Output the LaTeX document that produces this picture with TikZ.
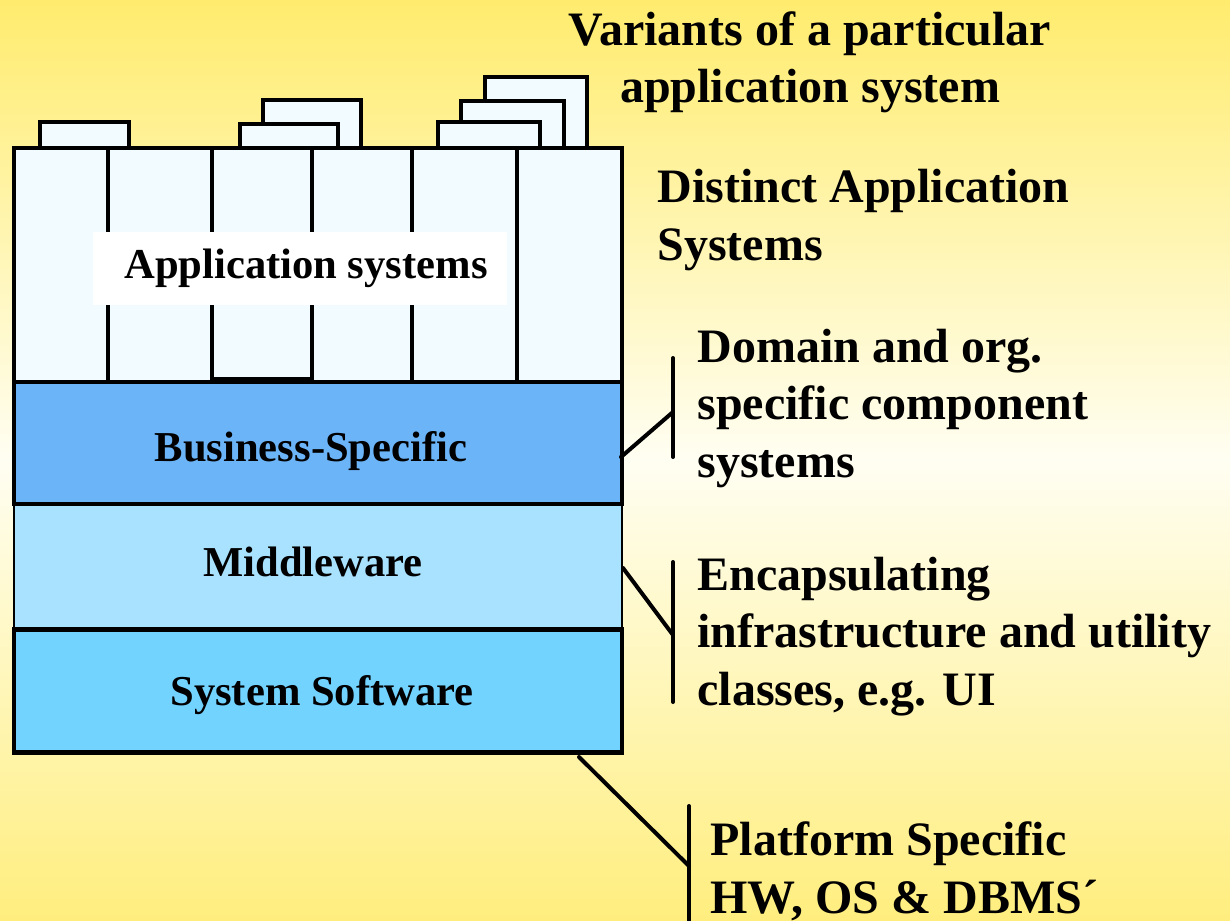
\documentclass[tikz,border=0pt]{standalone}
\usepackage{fontspec}
\setmainfont{Liberation Serif}
\definecolor{bgtop}{RGB}{255,236,110}
\definecolor{bgmid}{RGB}{255,254,242}
\definecolor{bgbot}{RGB}{255,238,126}
\definecolor{appblue}{RGB}{242,251,255}
\definecolor{bizblue}{RGB}{108,180,248}
\definecolor{midblue}{RGB}{168,226,255}
\definecolor{sysblue}{RGB}{115,211,255}
\begin{document}
\begin{tikzpicture}[x=0.5pt,y=-0.5pt,
  frame/.style={draw=black,line width=2.3pt},
  tab/.style={frame,fill=appblue,inner sep=0pt,outer sep=0pt},
  layerbox/.style={frame,inner sep=0pt,outer sep=0pt,minimum width=304pt},
  layerlabel/.style={font=\fontsize{21.3}{25}\selectfont\bfseries,anchor=base,inner sep=0pt},
  sidelabel/.style={font=\fontsize{24}{28.75}\selectfont\bfseries,align=left,inner sep=0pt},
  bracket/.style={line width=2pt,line cap=round,line join=round}]
% background: yellow at top and bottom, pale cream across the middle
\shade[top color=bgtop,bottom color=bgbot,middle color=bgmid] (0,0) rectangle (1230,920);
\useasboundingbox (0,0) rectangle (1230,920);

% variant tabs behind the application systems
\node (t1)  [tab,minimum width=44.5pt,minimum height=14pt] at (84.5,136) {};
\node (t2b) [tab,minimum width=49pt,minimum height=25pt] at (312,125) {};
\node (t2f) [tab,minimum width=49pt,minimum height=13pt] at (289,137) {};
\node (t3b) [tab,minimum width=51pt,minimum height=38pt] at (536,115) {};
\node (t3m) [tab,minimum width=51.5pt,minimum height=26pt] at (512.5,127) {};
\node (t3f) [tab,minimum width=51pt,minimum height=14pt] at (489,136) {};

% layer stack
\node (app) [layerbox,fill=appblue,minimum height=117pt] at (318,265) {};
\foreach \x in {108,212,312,412,517}
  \draw[frame] (\x,148) -- (\x,382);
\draw[frame] (212,379) -- (312,379);
\node (mid) [layerbox,draw=black,line width=1pt,fill=midblue,minimum height=62.5pt] at (318,566.5) {};
\node (biz) [layerbox,fill=bizblue,minimum height=61pt] at (318,443) {};
\node (sys) [layerbox,fill=sysblue,minimum height=61.5pt] at (318,691) {};
\draw[frame] (14,504) -- (622,504);
\draw[frame] (14,629) -- (622,629);

% layer names
\node (applbl) [fill=white,minimum width=207pt,minimum height=36.5pt,inner sep=0pt,
  font=\fontsize{21.3}{25}\selectfont\bfseries] at (300,268.5) {\hspace*{6pt}Application systems};
\node (bizlbl) [layerlabel] at (311,461) {Business-Specific};
\node (midlbl) [layerlabel] at (313,576) {Middleware};
\node (syslbl) [layerlabel] at (322,705) {System Software};

% side annotations (base anchor = baseline of the last line)
\node (variants) [sidelabel,align=center,anchor=base] at (810,103)
  {Variants of a particular\\application system};
\node (distinct) [sidelabel,anchor=base west] at (657,260)
  {Distinct Application\\Systems};
\node (domain) [sidelabel,anchor=base west] at (697,477)
  {Domain and org.\\specific component\\systems};
\node (encaps) [sidelabel,anchor=base west] at (697,705)
  {Encapsulating\\infrastructure and utility\\classes, e.g. UI};
\node (platform) [sidelabel,anchor=base west] at (710,913)
  {Platform Specific\\HW, OS \& DBMS´};

% brackets tying layers to annotations
\coordinate (b1t) at (673,358);
\coordinate (b1m) at (673,412);
\coordinate (b1b) at (673,457);
\coordinate (b1s) at (621,457);
\coordinate (b2t) at (673,562);
\coordinate (b2m) at (673,635);
\coordinate (b2b) at (673,702);
\coordinate (b2s) at (623,568);
\coordinate (b3t) at (689,806);
\coordinate (b3m) at (689,866);
\coordinate (b3b) at (689,930);
\coordinate (b3s) at (579,757);
\draw[bracket] (b1t) -- (b1b);
\draw[bracket] (b1s) -- (b1m);
\draw[bracket] (b2t) -- (b2b);
\draw[bracket] (b2s) -- (b2m);
\draw[bracket] (b3t) -- (b3b);
\draw[bracket] (b3s) -- (b3m);
\end{tikzpicture}
\end{document}
